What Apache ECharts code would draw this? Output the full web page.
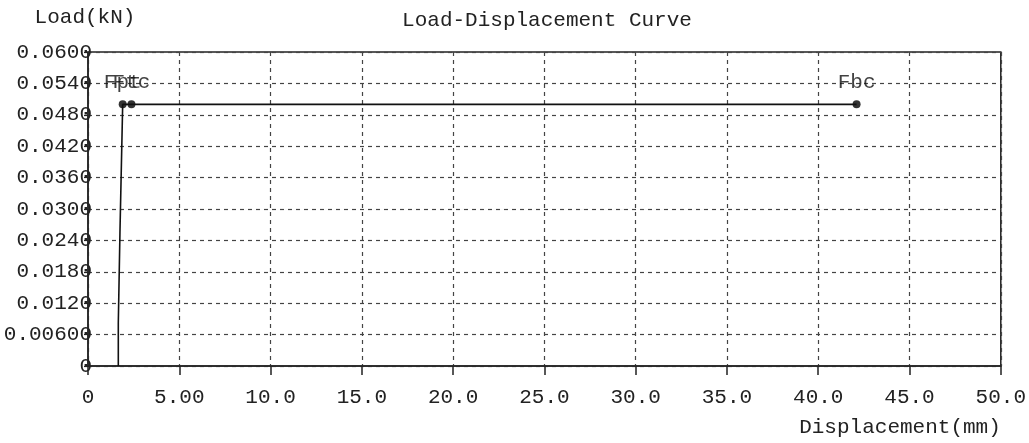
<!DOCTYPE html>
<html><head><meta charset="utf-8">
<script src="https://cdn.jsdelivr.net/npm/echarts@6/dist/echarts.min.js"></script>
<style>html,body{margin:0;padding:0;background:#fff}#c{width:1029px;height:443px}</style>
</head><body><div id="c"></div>
<script>
// Curve data: displacement (mm), load (kN)
const curveX = [1.66, 1.66, 1.75, 1.75, 1.84, 1.90, 2.38, 42.1];
const curveY = [0, 0.0082, 0.0082, 0.0254, 0.0254, 0.050, 0.050, 0.050];
// Feature points
const pointNames = ['Fpt', 'Ftc', 'Fbc'];
const pointX = [1.90, 2.38, 42.1];
const pointY = [0.050, 0.050, 0.050];
// Tick labels
const xTickValues = [0, 5, 10, 15, 20, 25, 30, 35, 40, 45, 50];
const xTickLabels = ['0', '5.00', '10.0', '15.0', '20.0', '25.0', '30.0', '35.0', '40.0', '45.0', '50.0'];
const yTickValues = [0, 0.006, 0.012, 0.018, 0.024, 0.030, 0.036, 0.042, 0.048, 0.054, 0.060];
const yTickLabels = ['0', '0.00600', '0.0120', '0.0180', '0.0240', '0.0300', '0.0360', '0.0420', '0.0480', '0.0540', '0.0600'];

const FONT = 'Liberation Mono';
const FS = 21;
function lookup(vals, labels, v) {
  for (let i = 0; i < vals.length; i++) if (Math.abs(vals[i] - v) < 1e-9) return labels[i];
  return '';
}
const chart = echarts.init(document.getElementById('c'));
chart.setOption({
  animation: false,
  backgroundColor: '#fff',
  title: {
    text: 'Load-Displacement Curve', left: 542, textAlign: 'center', top: 5,
    textStyle: { fontFamily: FONT, fontSize: FS, fontWeight: 'normal', color: '#222' }
  },
  grid: { left: 88, right: 27, top: 52, bottom: 77, show: true, borderColor: '#222', borderWidth: 1.5 },
  xAxis: {
    type: 'value', min: 0, max: 50, interval: 5,
    name: 'Displacement(mm)', nameLocation: 'end',
    nameGap: 0,
    nameTextStyle: { fontFamily: FONT, fontSize: FS, color: '#222', align: 'right', verticalAlign: 'top', padding: [51, 0, 0, 0] },
    axisLine: { show: true, lineStyle: { color: '#222', width: 1.5 } },
    axisTick: { show: true, length: 9, lineStyle: { color: '#222', width: 1.5 } },
    axisLabel: { fontFamily: FONT, fontSize: FS, color: '#222', margin: 21,
      formatter: v => lookup(xTickValues, xTickLabels, v) },
    splitLine: { show: true, lineStyle: { color: '#444', type: [4, 4], width: 1.2 } }
  },
  yAxis: {
    type: 'value', min: 0, max: 0.06, interval: 0.006,
    name: 'Load(kN)', nameLocation: 'end', nameGap: 35,
    nameTextStyle: { fontFamily: FONT, fontSize: FS, color: '#222', align: 'center', verticalAlign: 'middle', padding: [0, 6, 0, 0] },
    axisLine: { show: true, lineStyle: { color: '#222', width: 1.5 } },
    axisTick: { show: true, length: 4, inside: false, lineStyle: { color: '#222', width: 1.2 } },
    axisLabel: { fontFamily: FONT, fontSize: FS, color: '#222', margin: -4,
      formatter: v => lookup(yTickValues, yTickLabels, v) },
    splitLine: { show: true, lineStyle: { color: '#444', type: [4, 4], width: 1.2 } }
  },
  series: [
    {
      type: 'line', data: curveX.map((x, i) => [x, curveY[i]]),
      symbol: 'none', lineStyle: { color: '#111', width: 1.6 }
    },
    {
      type: 'scatter', data: pointX.map((x, i) => ({ value: [x, pointY[i]], name: pointNames[i] })),
      symbol: 'circle', symbolSize: 8, itemStyle: { color: '#000' },
      label: { show: true, position: 'top', distance: 7, formatter: p => p.name,
        fontFamily: FONT, fontSize: FS, color: '#111', textBorderWidth: 0 }
    }
  ]
});
</script></body></html>
